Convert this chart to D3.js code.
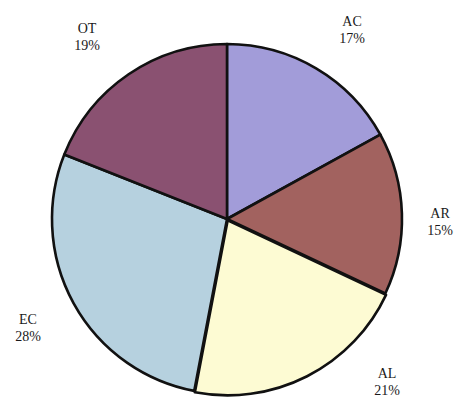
<!DOCTYPE html>
<html>
<head>
<meta charset="utf-8">
<script src="https://cdn.jsdelivr.net/npm/d3@7"></script>
<style>
  html, body { margin: 0; padding: 0; background: #fff; }
  svg { display: block; }
  text { font-family: "Liberation Serif", "DejaVu Serif", serif; fill: #1a1a1a; }
</style>
</head>
<body>
<svg id="chart" width="455" height="398"></svg>
<script>
// Share of each category, clockwise from twelve o'clock
const categories = ["AC", "AR", "AL", "EC", "OT"];
const shares = [17, 15, 21, 28, 19];
const sliceColors = ["#a29cd9", "#a2625f", "#fdfbd3", "#b6d1df", "#8a5171"];
// Label anchor points (center of the two-line label)
const labelPos = [[352, 30], [440, 222], [387, 382], [28, 328], [87, 37]];
// Slice pulled slightly away from the centre (AL)
const explodeIndex = 2;
const explodeOffset = 1.5;

const svg = d3.select("#chart");
const cx = 227, cy = 219, radius = 175;

const pie = d3.pie().sort(null).value(d => d)(shares);
const arc = d3.arc().innerRadius(0).outerRadius(radius);

const g = svg.append("g").attr("transform", `translate(${cx},${cy})`);

g.selectAll("path.slice")
  .data(pie)
  .join("path")
  .attr("class", "slice")
  .attr("d", arc)
  .attr("fill", (d, i) => sliceColors[i])
  .attr("stroke", "#111")
  .attr("stroke-width", 2.6)
  .attr("stroke-linejoin", "round")
  .attr("transform", (d, i) => {
    if (i !== explodeIndex) return null;
    const a = (d.startAngle + d.endAngle) / 2;
    return `translate(${Math.sin(a) * explodeOffset},${-Math.cos(a) * explodeOffset})`;
  });

const labels = svg.selectAll("g.label")
  .data(categories)
  .join("g")
  .attr("class", "label")
  .attr("transform", (d, i) => `translate(${labelPos[i][0]},${labelPos[i][1]})`);

labels.append("text")
  .attr("text-anchor", "middle")
  .attr("y", -4)
  .attr("font-size", 14)
  .text(d => d);

labels.append("text")
  .attr("text-anchor", "middle")
  .attr("y", 13)
  .attr("font-size", 14)
  .text((d, i) => shares[i] + "%");
</script>
</body>
</html>
